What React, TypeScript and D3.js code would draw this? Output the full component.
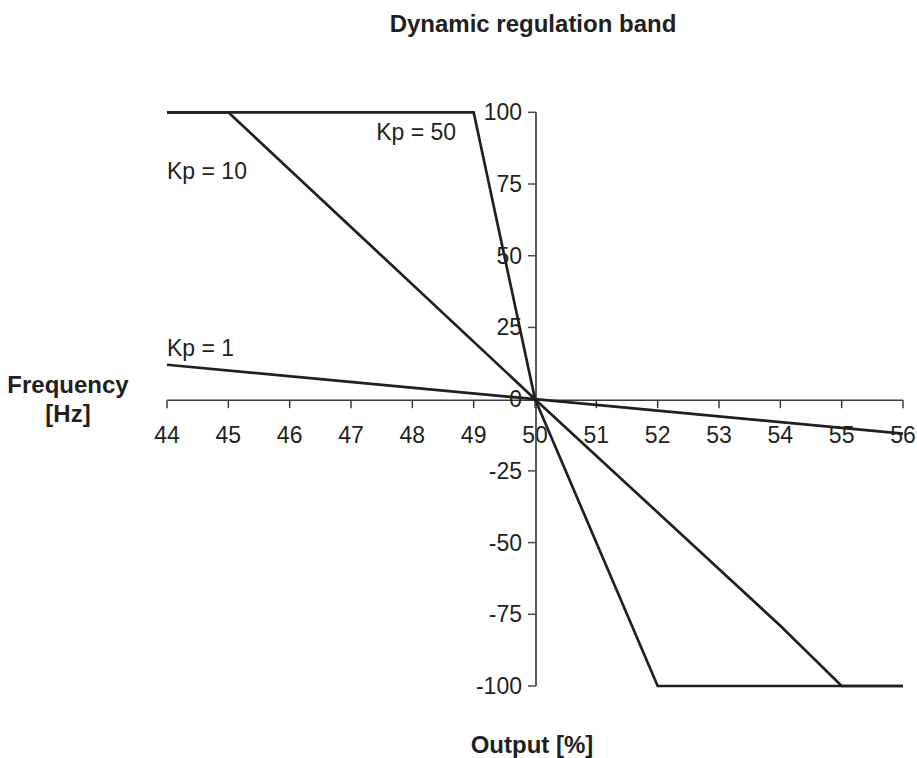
import React from "react";
import * as d3 from "d3";

const xTicks = [44, 45, 46, 47, 48, 49, 50, 51, 52, 53, 54, 55, 56];
const yTicks = [100, 75, 50, 25, 0, -25, -50, -75, -100];

const kp1: [number, number][] = [[44, 12], [50, 0], [56, -12]];
const kp10: [number, number][] = [[44, 100], [45, 100], [50, 0], [54, -79], [55, -100], [56, -100]];
const kp50: [number, number][] = [[44, 100], [49, 100], [50, 0], [52, -100], [56, -100]];

const seriesLabels = [
  { text: "Kp = 1", x: 44, y: 15.2 },
  { text: "Kp = 10", x: 44, y: 76.6 },
  { text: "Kp = 50", x: 47.41, y: 90.3 },
];

const W = 917;
const H = 758;
const FONT = "'Liberation Sans', Arial, Helvetica, sans-serif";
const INK = "#231f20";

export default function App() {
  const x = d3.scaleLinear().domain([44, 56]).range([167, 903]);
  const y = d3.scaleLinear().domain([-100, 100]).range([686, 112.3]);
  const line = d3
    .line<[number, number]>()
    .x((d) => x(d[0]))
    .y((d) => y(d[1]));
  const x0 = x(50);
  const y0 = y(0);

  return (
    <svg
      width={W}
      height={H}
      style={{ position: "absolute", left: 0, top: 0, background: "#fff" }}
      fontFamily={FONT}
    >
      <rect width={W} height={H} fill="#fff" />
      <text x={533} y={32} textAnchor="middle" fontSize={24} fontWeight="bold" fill={INK}>
        Dynamic regulation band
      </text>

      {/* x axis */}
      <line x1={x(44)} x2={x(56)} y1={y0 + 1} y2={y0 + 1} stroke="#3a3a3a" strokeWidth={1.5} />
      {xTicks.map((t) => (
        <g key={"x" + t}>
          <line x1={x(t)} x2={x(t)} y1={y0 + 1} y2={y0 + 9} stroke="#3a3a3a" strokeWidth={1.5} />
          <text x={x(t)} y={443} textAnchor="middle" fontSize={23} fill={INK}>
            {t}
          </text>
        </g>
      ))}

      {/* y axis */}
      <line x1={x0 + 1} x2={x0 + 1} y1={y(100)} y2={y(-100)} stroke="#4a4a4a" strokeWidth={1.8} />
      {yTicks.map((t) => (
        <g key={"y" + t}>
          <line x1={x0 - 7} x2={x0 + 1} y1={y(t)} y2={y(t)} stroke="#4a4a4a" strokeWidth={1.5} />
          <text x={522} y={y(t) + 8} textAnchor="end" fontSize={23} fill={INK}>
            {t}
          </text>
        </g>
      ))}

      {/* series */}
      {[kp1, kp10, kp50].map((s, i) => (
        <path key={"s" + i} d={line(s) || ""} fill="none" stroke={INK} strokeWidth={2.7} strokeLinejoin="miter" />
      ))}

      {seriesLabels.map((l) => (
        <text key={l.text} x={x(l.x)} y={y(l.y)} fontSize={23} fill={INK}>
          {l.text}
        </text>
      ))}

      {/* axis titles */}
      <text x={68} y={393} textAnchor="middle" fontSize={24} fontWeight="bold" fill={INK}>
        Frequency
      </text>
      <text x={68} y={422} textAnchor="middle" fontSize={24} fontWeight="bold" fill={INK}>
        [Hz]
      </text>
      <text x={532} y={753} textAnchor="middle" fontSize={24} fontWeight="bold" fill={INK}>
        Output [%]
      </text>
    </svg>
  );
}
